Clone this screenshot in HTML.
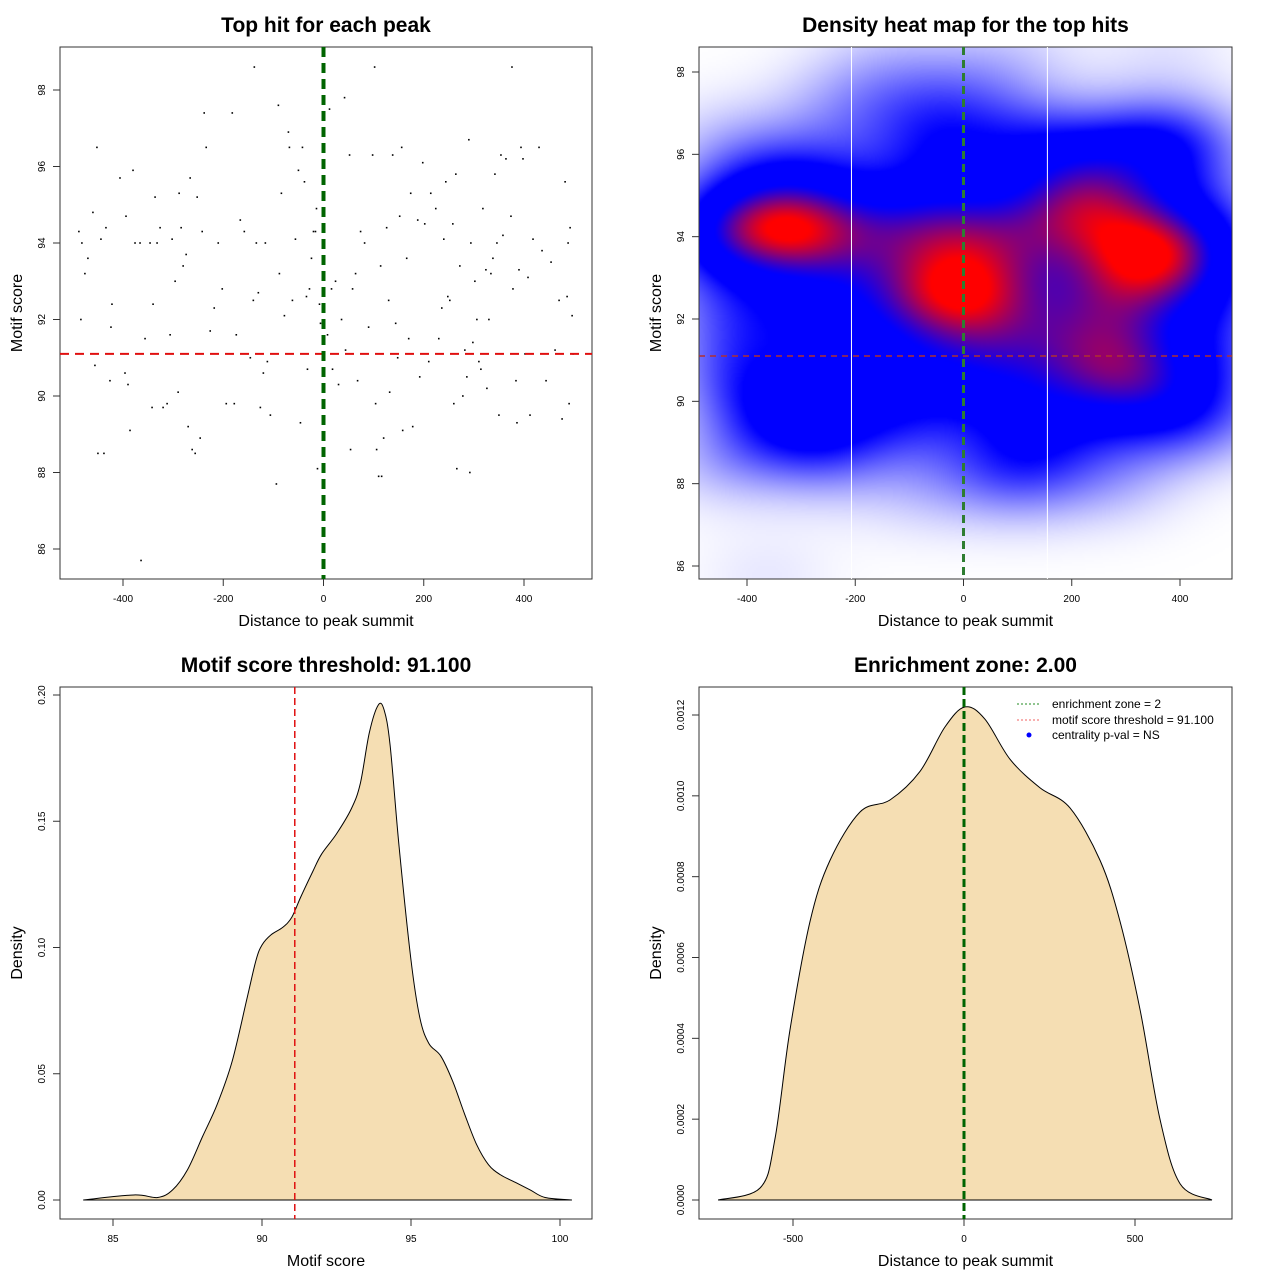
<!DOCTYPE html>
<html><head><meta charset="utf-8">
<style>
html,body{margin:0;padding:0;background:#fff;width:1280px;height:1280px;overflow:hidden}
#heat{position:absolute;left:699px;top:47px;width:533px;height:532px}
svg{position:absolute;left:0;top:0}
text{font-family:"Liberation Sans",sans-serif}
</style></head>
<body>
<canvas id="heat" width="267" height="266"></canvas>
<svg id="chart" width="1280" height="1280" xmlns="http://www.w3.org/2000/svg"></svg>
<script>
// Scatter data: distance to summit and motif score
const hitDist=[-488,-482,-484,-476,-470,-460,-456,-452,-450,-444,-438,-434,-426,-424,-422,-406,-396,-394,-390,-386,-380,-376,-366,-364,-356,-346,-342,-340,-336,-332,-326,-320,-312,-306,-302,-296,-290,-288,-284,-280,-274,-270,-266,-262,-256,-252,-246,-242,-238,-234,-226,-218,-210,-202,-194,-182,-178,-174,-166,-158,-146,-140,-138,-134,-130,-126,-120,-116,-112,-106,-94,-90,-88,-84,-78,-70,-68,-62,-56,-50,-46,-42,-38,-34,-32,-28,-24,-20,-16,-14,-12,-8,-6,-2,8,12,16,18,24,30,36,42,44,52,54,58,64,68,74,82,90,98,102,104,106,110,114,116,120,126,130,132,138,144,148,152,156,158,166,170,174,178,188,192,198,202,210,214,224,230,236,240,244,248,252,258,260,264,266,272,278,282,286,290,292,294,298,302,306,310,314,318,324,326,330,334,338,342,346,350,354,358,364,374,378,376,384,386,390,394,398,402,408,412,418,430,436,444,454,462,470,476,482,486,488,490,492,496,498];
const hitScore=[94.3,94.0,92.0,93.2,93.6,94.8,90.8,96.5,88.5,94.1,88.5,94.4,90.4,91.8,92.4,95.7,90.6,94.7,90.3,89.1,95.9,94.0,94.0,85.7,91.5,94.0,89.7,92.4,95.2,94.0,94.4,89.7,89.8,91.6,94.1,93.0,90.1,95.3,94.4,93.4,93.7,89.2,95.7,88.6,88.5,95.2,88.9,94.3,97.4,96.5,91.7,92.3,94.0,92.8,89.8,97.4,89.8,91.6,94.6,94.3,91.0,92.5,98.6,94.0,92.7,89.7,90.6,94.0,90.9,89.5,87.7,97.6,93.2,95.3,92.1,96.9,96.5,92.5,94.1,95.9,89.3,96.5,95.6,92.6,90.7,92.8,93.6,94.3,94.3,94.9,88.1,92.4,91.9,94.3,91.6,97.5,92.8,90.7,93.0,90.3,92.0,97.8,91.2,96.3,88.6,92.8,93.2,90.4,94.3,94.0,91.8,96.3,98.6,89.8,88.6,87.9,93.4,87.9,88.9,94.4,92.5,90.1,96.3,91.9,91.0,94.7,96.5,89.1,93.6,91.5,95.3,89.2,94.6,90.5,96.1,94.5,90.9,95.3,94.9,91.5,92.3,94.1,95.6,92.6,92.5,94.5,89.8,95.8,88.1,93.4,90.0,91.2,90.5,96.7,88.0,94.0,91.4,93.0,92.0,90.9,90.7,94.9,93.3,90.2,92.0,93.2,93.6,95.8,94.0,89.5,96.3,94.2,96.2,94.7,92.8,98.6,90.4,89.3,93.3,96.5,96.2,91.1,93.1,89.5,94.1,96.5,93.8,90.4,93.5,91.2,92.5,89.4,95.6,92.6,94.0,89.8,94.4,92.1,91.1];
// Motif score density curve
const scoreX=[84,85.7,86.5,87,87.5,88,88.5,89,89.5,89.8,90,90.3,90.7,91,91.3,91.7,92,92.5,93,93.3,93.6,93.9,94.1,94.3,94.6,95,95.3,95.6,96,96.4,96.8,97.2,97.6,98,98.5,99,99.5,100.4];
const scoreDens=[0,0.002,0.001,0.004,0.012,0.025,0.038,0.055,0.080,0.095,0.101,0.105,0.108,0.112,0.120,0.130,0.137,0.145,0.155,0.165,0.185,0.196,0.194,0.180,0.140,0.095,0.072,0.062,0.057,0.047,0.034,0.022,0.014,0.010,0.007,0.004,0.001,0];
// Distance density curve
const distX=[-719,-596,-553,-509,-450,-392,-304,-216,-129,-56,3,61,135,222,310,398,456,515,573,632,725];
const distDens=[0,0.00003,0.00015,0.00042,0.00069,0.00084,0.00096,0.00099,0.00106,0.00117,0.00122,0.00119,0.00109,0.00102,0.00097,0.00084,0.00069,0.00047,0.0002,0.00004,0];
const threshold=91.1;
const xTicksDist=[-400,-200,0,200,400];
const yTicksScore=[86,88,90,92,94,96,98];
const xTicksScore=[85,90,95,100];
const yTicksDens1=[0,0.05,0.10,0.15,0.20];
const yTicksDens1Lbl=["0.00","0.05","0.10","0.15","0.20"];
const xTicksDist4=[-500,0,500];
const yTicksDens2=[0,0.0002,0.0004,0.0006,0.0008,0.0010,0.0012];
const yTicksDens2Lbl=["0.0000","0.0002","0.0004","0.0006","0.0008","0.0010","0.0012"];

const NS="http://www.w3.org/2000/svg";
const svg=document.getElementById('chart');
function el(tag,attrs,parent){const e=document.createElementNS(NS,tag);for(const k in attrs)e.setAttribute(k,attrs[k]);(parent||svg).appendChild(e);return e;}
function lin(d0,p0,d1,p1){return v=>p0+(v-d0)*(p1-p0)/(d1-d0);}
function txt(s,x,y,attrs,name,parent){const t=el('text',Object.assign({x:x,y:y},attrs),parent);t.textContent=s;


return t;}

function panel(id,L,T,R,B,sx,sy,xt,xtl,yt,ytl,title,xlab,ylab){
  const g=el('g',{});
  
  
  const box=el('rect',{x:L,y:T,width:R-L,height:B-T,fill:'none',stroke:'#333','stroke-width':1},g);
  
  
  const xa=el('g',{},g);
  
  
  xt.forEach((v,i)=>{const px=sx(v);
    el('line',{x1:px,x2:px,y1:B,y2:B+7,stroke:'#333'},xa);
    txt(xtl[i],px,B+23,{'font-size':10,'text-anchor':'middle'},'x-tick-label',xa);});
  const ya=el('g',{},g);
  
  
  yt.forEach((v,i)=>{const py=sy(v);
    el('line',{x1:L,x2:L-7,y1:py,y2:py,stroke:'#333'},ya);
    txt(ytl[i],L-15,py,{'font-size':10,'text-anchor':'middle',transform:`rotate(-90 ${L-15} ${py})`},'y-tick-label',ya);});
  const cx=(L+R)/2;
  txt(title,cx,T-15,{'font-size':21,'font-weight':'bold','text-anchor':'middle'},id+'-title',g);
  txt(xlab,cx,B+47,{'font-size':16,'text-anchor':'middle'},id+'-x-axis-title',g);
  const yc=(T+B)/2;
  txt(ylab,L-38,yc,{'font-size':16,'text-anchor':'middle',transform:`rotate(-90 ${L-38} ${yc})`},id+'-y-axis-title',g);
  return g;
}
function smoothPath(pts){let d=`M${pts[0][0]},${pts[0][1]}`;
  for(let i=0;i<pts.length-1;i++){const p0=pts[Math.max(0,i-1)],p1=pts[i],p2=pts[i+1],p3=pts[Math.min(pts.length-1,i+2)];
    d+=` C${p1[0]+(p2[0]-p0[0])/6},${p1[1]+(p2[1]-p0[1])/6} ${p2[0]-(p3[0]-p1[0])/6},${p2[1]-(p3[1]-p1[1])/6} ${p2[0]},${p2[1]}`;}
  return d;}

// Panel 1: scatter
{const sx=lin(-400,123,400,524),sy=lin(98,90,86,549);
 const g=panel('scatter-panel',60,47,592,579,sx,sy,xTicksDist,xTicksDist.map(String),yTicksScore,yTicksScore.map(String),'Top hit for each peak','Distance to peak summit','Motif score');
 hitDist.forEach((d,i)=>{const c=el('rect',{x:sx(d)-0.8,y:sy(hitScore[i])-0.8,width:1.6,height:1.6,fill:'#000'},g);
   
   });
 const h=el('line',{x1:60,x2:592,y1:sy(threshold),y2:sy(threshold),stroke:'#e01010','stroke-width':2,'stroke-dasharray':'9,6'},g);
 
 
 const v=el('line',{x1:sx(0),x2:sx(0),y1:47,y2:579,stroke:'#006400','stroke-width':4,'stroke-dasharray':'10,6'},g);
 
 
}
// Panel 2: heat map
{const sx=lin(-400,747,400,1180),sy=lin(98,72,86,566);
 const cv=document.getElementById('heat'),ctx=cv.getContext('2d');
 const W=cv.width,H=cv.height,L=699,T=47,pw=533,ph=532;
 const bx=95,by=0.85;
 const gx=[],gy=[];
 for(let p=0;p<hitDist.length;p++){const ax=new Float32Array(W),ay=new Float32Array(H);
   for(let i=0;i<W;i++){const px=L+(i+0.5)*pw/W;const dx=(px-sx(hitDist[p]))/(sx(bx)-sx(0));ax[i]=Math.exp(-0.5*dx*dx);}
   for(let j=0;j<H;j++){const py=T+(j+0.5)*ph/H;const dy=(py-sy(hitScore[p]))/(sy(0)-sy(by));ay[j]=Math.exp(-0.5*dy*dy);}
   gx.push(ax);gy.push(ay);}
 const dens=new Float32Array(W*H);let mx=0;
 for(let p=0;p<gx.length;p++){const ax=gx[p],ay=gy[p];
   for(let j=0;j<H;j++){const a=ay[j];if(a<1e-4)continue;const o=j*W;for(let i=0;i<W;i++)dens[o+i]+=a*ax[i];}}
 for(let k=0;k<dens.length;k++)if(dens[k]>mx)mx=dens[k];
 const img=ctx.createImageData(W,H);
 for(let k=0;k<dens.length;k++){let t=dens[k]/mx;let r,gg,b;
   if(t<0.5){const u=Math.pow(t/0.5,1.2);r=255*(1-u);gg=255*(1-u);b=255;}
   else if(t<0.7){r=0;gg=0;b=255;}
   else{const u=Math.pow(Math.min(1,(t-0.7)/0.25),1.3);r=255*u;gg=0;b=255*(1-u);}
   img.data[4*k]=r;img.data[4*k+1]=gg;img.data[4*k+2]=b;img.data[4*k+3]=255;}
 ctx.putImageData(img,0,0);
 const g=panel('heatmap-panel',699,47,1232,579,sx,sy,xTicksDist,xTicksDist.map(String),yTicksScore,yTicksScore.map(String),'Density heat map for the top hits','Distance to peak summit','Motif score');
 [-207,155].forEach(d=>{const w=el('line',{x1:sx(d),x2:sx(d),y1:47,y2:579,stroke:'#fff','stroke-width':1},g);
   
   });
 const h=el('line',{x1:699,x2:1232,y1:sy(threshold),y2:sy(threshold),stroke:'#b03030','stroke-width':1.5,'stroke-dasharray':'6,5'},g);
 
 
 const v=el('line',{x1:sx(0),x2:sx(0),y1:47,y2:579,stroke:'#2e7d32','stroke-width':3,'stroke-dasharray':'8,5'},g);
 
 
}
// Panel 3: score density
{const sx=lin(85,113,100,560),sy=lin(0,1200,0.2,695);
 const g=panel('score-density-panel',60,687,592,1219,sx,sy,xTicksScore,xTicksScore.map(String),yTicksDens1,yTicksDens1Lbl,'Motif score threshold: 91.100','Motif score','Density');
 const pts=scoreX.map((x,i)=>[sx(x),sy(scoreDens[i])]);
 const a=el('path',{d:smoothPath(pts)+' Z',fill:'#f5deb3',stroke:'#000','stroke-width':1},g);
 
 
 const v=el('line',{x1:sx(threshold),x2:sx(threshold),y1:687,y2:1219,stroke:'#e01010','stroke-width':1.5,'stroke-dasharray':'7,4'},g);
 
 
}
// Panel 4: distance density
{const sx=lin(-500,793,500,1135),sy=lin(0,1200,0.0012,715);
 const g=panel('distance-density-panel',699,687,1232,1219,sx,sy,xTicksDist4,xTicksDist4.map(String),yTicksDens2,yTicksDens2Lbl,'Enrichment zone: 2.00','Distance to peak summit','Density');
 const pts=distX.map((x,i)=>[sx(x),sy(distDens[i])]);
 const a=el('path',{d:smoothPath(pts)+' Z',fill:'#f5deb3',stroke:'#000','stroke-width':1},g);
 
 
 const v=el('line',{x1:sx(0),x2:sx(0),y1:687,y2:1219,stroke:'#006400','stroke-width':3,'stroke-dasharray':'8,4'},g);
 
 
 const lg=el('g',{},g);
 
 
 const l1=el('line',{x1:1017,x2:1041,y1:704,y2:704,stroke:'#228b22','stroke-dasharray':'2,2'},lg);
 
 
 const l2=el('line',{x1:1017,x2:1041,y1:720,y2:720,stroke:'#f06060','stroke-dasharray':'2,2'},lg);
 
 
 const l3=el('circle',{cx:1029,cy:735,r:2.5,fill:'#0000ff'},lg);
 
 
 txt('enrichment zone = 2',1052,708,{'font-size':12},'legend-entry',lg);
 txt('motif score threshold = 91.100',1052,724,{'font-size':12},'legend-entry',lg);
 txt('centrality p-val = NS',1052,739,{'font-size':12},'legend-entry',lg);
}
</script>
</body></html>
